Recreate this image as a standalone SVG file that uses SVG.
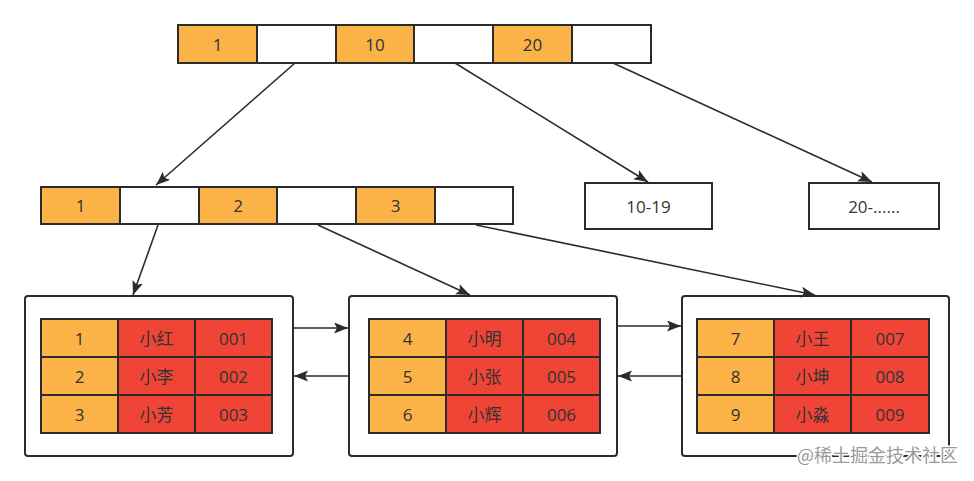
<svg xmlns="http://www.w3.org/2000/svg" width="974" height="481" viewBox="0 0 974 481">
<defs>
<style>
.o{fill:#FBB246;stroke:#2b2b2b;stroke-width:2}
.w{fill:#fff;stroke:#2b2b2b;stroke-width:2}
.r{fill:#F04536;stroke:#2b2b2b;stroke-width:2}
.c{fill:#fff;stroke:#2b2b2b;stroke-width:2}
.t{font-family:"Open Sans","Noto Sans CJK SC",sans-serif;font-size:17px;fill:#333;text-anchor:middle;dominant-baseline:central}
.e{fill:none;stroke:#2b2b2b;stroke-width:1.6}
.wm{font-family:"Noto Sans CJK SC",sans-serif;font-size:18px;fill:#9a9a9a;stroke:#fff;stroke-width:3;paint-order:stroke;stroke-linejoin:round}
</style>
<marker id="ah" markerWidth="16" markerHeight="12" refX="14" refY="5.5" orient="auto" markerUnits="userSpaceOnUse">
<path d="M0,0 L14,5.5 L0,11 L3,5.5 Z" fill="#2b2b2b"/>
</marker>
</defs>
<g id="root">
<rect class="o" x="178" y="25" width="79" height="38"/><text class="t" x="217.5" y="44">1</text>
<rect class="w" x="257" y="25" width="79" height="38"/>
<rect class="o" x="336" y="25" width="78" height="38"/><text class="t" x="375" y="44">10</text>
<rect class="w" x="414" y="25" width="79" height="38"/>
<rect class="o" x="493" y="25" width="79" height="38"/><text class="t" x="532.5" y="44">20</text>
<rect class="w" x="572" y="25" width="79" height="38"/>
</g>
<g id="mid">
<rect class="o" x="41" y="187" width="79" height="37"/><text class="t" x="80.5" y="205.5">1</text>
<rect class="w" x="120" y="187" width="79" height="37"/>
<rect class="o" x="199" y="187" width="78" height="37"/><text class="t" x="238" y="205.5">2</text>
<rect class="w" x="277" y="187" width="79" height="37"/>
<rect class="o" x="356" y="187" width="79" height="37"/><text class="t" x="395.5" y="205.5">3</text>
<rect class="w" x="435" y="187" width="78" height="37"/>
</g>
<g id="n10-19">
<rect class="w" x="585" y="183" width="127" height="46"/><text class="t" x="648.5" y="206">10-19</text>
</g>
<g id="n20">
<rect class="w" x="809" y="183" width="130" height="46"/><text class="t" x="874" y="206">20-......</text>
</g>
<g id="leaf1">
<rect class="c" x="25" y="296" width="268" height="160" rx="3"/>
<rect class="o" x="41" y="319" width="77" height="38"/><rect class="r" x="118" y="319" width="77" height="38"/><rect class="r" x="195" y="319" width="77" height="38"/>
<rect class="o" x="41" y="357" width="77" height="38"/><rect class="r" x="118" y="357" width="77" height="38"/><rect class="r" x="195" y="357" width="77" height="38"/>
<rect class="o" x="41" y="395" width="77" height="38"/><rect class="r" x="118" y="395" width="77" height="38"/><rect class="r" x="195" y="395" width="77" height="38"/>
<text class="t" x="79.5" y="338">1</text><text class="t" x="156.5" y="338">小红</text><text class="t" x="233.5" y="338">001</text>
<text class="t" x="79.5" y="376">2</text><text class="t" x="156.5" y="376">小李</text><text class="t" x="233.5" y="376">002</text>
<text class="t" x="79.5" y="414">3</text><text class="t" x="156.5" y="414">小芳</text><text class="t" x="233.5" y="414">003</text>
</g>
<g id="leaf2">
<rect class="c" x="349" y="296" width="268" height="160" rx="3"/>
<rect class="o" x="369" y="319" width="77" height="38"/><rect class="r" x="446" y="319" width="77" height="38"/><rect class="r" x="523" y="319" width="77" height="38"/>
<rect class="o" x="369" y="357" width="77" height="38"/><rect class="r" x="446" y="357" width="77" height="38"/><rect class="r" x="523" y="357" width="77" height="38"/>
<rect class="o" x="369" y="395" width="77" height="38"/><rect class="r" x="446" y="395" width="77" height="38"/><rect class="r" x="523" y="395" width="77" height="38"/>
<text class="t" x="407.5" y="338">4</text><text class="t" x="484.5" y="338">小明</text><text class="t" x="561.5" y="338">004</text>
<text class="t" x="407.5" y="376">5</text><text class="t" x="484.5" y="376">小张</text><text class="t" x="561.5" y="376">005</text>
<text class="t" x="407.5" y="414">6</text><text class="t" x="484.5" y="414">小辉</text><text class="t" x="561.5" y="414">006</text>
</g>
<g id="leaf3">
<rect class="c" x="682" y="296" width="267" height="160" rx="3"/>
<rect class="o" x="697" y="319" width="77" height="38"/><rect class="r" x="774" y="319" width="77" height="38"/><rect class="r" x="851" y="319" width="78" height="38"/>
<rect class="o" x="697" y="357" width="77" height="38"/><rect class="r" x="774" y="357" width="77" height="38"/><rect class="r" x="851" y="357" width="78" height="38"/>
<rect class="o" x="697" y="395" width="77" height="38"/><rect class="r" x="774" y="395" width="77" height="38"/><rect class="r" x="851" y="395" width="78" height="38"/>
<text class="t" x="735.5" y="338">7</text><text class="t" x="812.5" y="338">小王</text><text class="t" x="890" y="338">007</text>
<text class="t" x="735.5" y="376">8</text><text class="t" x="812.5" y="376">小坤</text><text class="t" x="890" y="376">008</text>
<text class="t" x="735.5" y="414">9</text><text class="t" x="812.5" y="414">小淼</text><text class="t" x="890" y="414">009</text>
</g>
<g id="edges">
<line class="e" x1="295" y1="63" x2="156" y2="185" marker-end="url(#ah)"/>
<line class="e" x1="455" y1="63" x2="648" y2="182" marker-end="url(#ah)"/>
<line class="e" x1="613" y1="63" x2="872" y2="182" marker-end="url(#ah)"/>
<line class="e" x1="158" y1="225" x2="133" y2="295" marker-end="url(#ah)"/>
<line class="e" x1="318" y1="225" x2="470" y2="295" marker-end="url(#ah)"/>
<line class="e" x1="476" y1="225" x2="815" y2="295" marker-end="url(#ah)"/>
<line class="e" x1="293" y1="328" x2="348" y2="328" marker-end="url(#ah)"/>
<line class="e" x1="349" y1="376" x2="294" y2="376" marker-end="url(#ah)"/>
<line class="e" x1="617" y1="326" x2="681" y2="326" marker-end="url(#ah)"/>
<line class="e" x1="682" y1="376" x2="618" y2="376" marker-end="url(#ah)"/>
</g>
<text class="wm" x="797" y="462">@稀土掘金技术社区</text>
</svg>
